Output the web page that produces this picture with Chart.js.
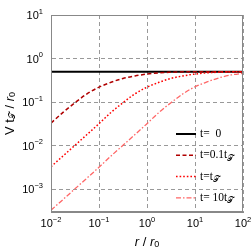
<!DOCTYPE html>
<html>
<head>
<meta charset="utf-8">
<script src="https://cdn.jsdelivr.net/npm/chart.js@4"></script>
<style>
  html, body { margin: 0; padding: 0; background: #fff; }
  canvas { display: block; }
</style>
</head>
<body>
<canvas id="chart" width="252" height="252"></canvas>
<script>
// r / r0 sample points (quarter decades)
const radius = [0.01, 0.0178, 0.0316, 0.0562, 0.1, 0.178, 0.316, 0.562, 1, 1.78, 3.16, 5.62, 10, 17.8, 31.6, 56.2, 100];
// V t_T / r0
const vT0   = [0.5, 0.5, 0.5, 0.5, 0.5, 0.5, 0.5, 0.5, 0.5, 0.5, 0.5, 0.5, 0.5, 0.5, 0.5, 0.5, 0.5];
const vT01  = [0.033, 0.058, 0.097, 0.155, 0.22, 0.285, 0.35, 0.40, 0.44, 0.47, 0.485, 0.495, 0.5, 0.5, 0.5, 0.5, 0.5];
const vT1   = [0.0033, 0.0058, 0.0102, 0.018, 0.032, 0.058, 0.097, 0.155, 0.22, 0.285, 0.35, 0.40, 0.44, 0.47, 0.485, 0.495, 0.5];
const vT10  = [0.00033, 0.00058, 0.00102, 0.0018, 0.0032, 0.0058, 0.0102, 0.018, 0.032, 0.058, 0.097, 0.155, 0.225, 0.29, 0.36, 0.42, 0.46];

const xExponents = [-2, -1, 0, 1, 2];
const yExponents = [-3, -2, -1, 0, 1];
// legend label: main text + subscript
const legendText = [['t=  0', ''], ['t=0.1t', '𝒯'], ['t=t', '𝒯'], ['t= 10t', '𝒯']];

const SANS = '"Liberation Sans", Arial, sans-serif';
const SERIF = '"Liberation Serif", "Times New Roman", serif';

const pts = ys => radius.map((r, i) => ({ x: r, y: ys[i] }));

// draw a row of text pieces, each with own font and vertical offset
function drawRuns(ctx, runs, x, y, align) {
  let w = 0;
  runs.forEach(r => { ctx.font = r.font; r.w = ctx.measureText(r.text).width; w += r.w; });
  let cx = align === 'center' ? x - w / 2 : align === 'right' ? x - w : x;
  runs.forEach(r => {
    ctx.font = r.font;
    ctx.fillText(r.text, cx, y + (r.dy || 0));
    cx += r.w;
  });
}

const pow10 = e => [
  { text: '10', font: '11px ' + SANS },
  { text: e < 0 ? '\u2212' + (-e) : String(e), font: '7.5px ' + SANS, dy: -4.5 }
];

const decorations = {
  id: 'decorations',
  afterDraw(chart) {
    const { ctx, chartArea: a, scales } = chart;
    ctx.save();
    // frame
    ctx.strokeStyle = '#888';
    ctx.lineWidth = 1;
    ctx.setLineDash([]);
    ctx.strokeRect(a.left + 0.5, a.top + 0.5, a.right - a.left - 1, a.bottom - a.top - 1);

    ctx.fillStyle = '#000';
    ctx.textBaseline = 'middle';
    xExponents.forEach(e => {
      const px = scales.x.getPixelForValue(Math.pow(10, e));
      drawRuns(ctx, pow10(e), px, a.bottom + 12, 'center');
    });
    yExponents.forEach(e => {
      const py = scales.y.getPixelForValue(Math.pow(10, e));
      drawRuns(ctx, pow10(e), a.left - 8, py + 1, 'right');
    });

    // axis titles
    drawRuns(ctx, [
      { text: 'r', font: 'italic 13px ' + SANS },
      { text: ' / ', font: '13px ' + SANS },
      { text: 'r', font: 'italic 13px ' + SANS },
      { text: '0', font: '9px ' + SANS, dy: 3 }
    ], (a.left + a.right) / 2, 242, 'center');

    ctx.save();
    ctx.translate(10, (a.top + a.bottom) / 2);
    ctx.rotate(-Math.PI / 2);
    drawRuns(ctx, [
      { text: 'V t', font: '13px ' + SANS },
      { text: '𝒯', font: '9px ' + SERIF, dy: 3 },
      { text: ' / ', font: '13px ' + SANS },
      { text: 'r', font: 'italic 13px ' + SANS },
      { text: '0', font: '9px ' + SANS, dy: 3 }
    ], 0, 0, 'center');
    ctx.restore();

    // legend
    const ds = chart.data.datasets;
    legendText.forEach((lab, i) => {
      const y = 134 + i * 21.3;
      const d = ds[i];
      ctx.strokeStyle = d.borderColor;
      ctx.lineWidth = d.borderWidth;
      ctx.setLineDash(d.borderDash || []);
      ctx.beginPath();
      ctx.moveTo(176, y);
      ctx.lineTo(196, y);
      ctx.stroke();
      ctx.setLineDash([]);
      const runs = [{ text: lab[0], font: '11.5px ' + SERIF }];
      if (lab[1]) runs.push({ text: lab[1], font: '9px ' + SERIF, dy: 3 });
      drawRuns(ctx, runs, 200, y, 'left');
    });
    ctx.restore();
  }
};

const decadeTicks = exps => scale => {
  scale.ticks = exps.map(e => ({ value: Math.pow(10, e) }));
};

new Chart(document.getElementById('chart'), {
  type: 'line',
  data: {
    datasets: [
      { label: 't=0', data: pts(vT0), borderColor: '#000000', borderWidth: 2, order: 4 },
      { label: 't=0.1', data: pts(vT01), borderColor: '#b00000', borderWidth: 1.5, borderDash: [4, 2.5], order: 3 },
      { label: 't=1', data: pts(vT1), borderColor: '#ff0000', borderWidth: 1.5, borderDash: [1.6, 2], order: 2 },
      { label: 't=10', data: pts(vT10), borderColor: '#ff6666', borderWidth: 1.3, borderDash: [5, 2, 1.5, 2], order: 1 }
    ]
  },
  options: {
    responsive: false,
    animation: false,
    devicePixelRatio: 1,
    layout: { padding: { left: 51, top: 15, right: 9, bottom: 40 } },
    elements: {
      point: { radius: 0 },
      line: { cubicInterpolationMode: 'monotone', fill: false }
    },
    plugins: { legend: { display: false }, tooltip: { enabled: false } },
    scales: {
      x: {
        type: 'logarithmic',
        min: 0.01,
        max: 100,
        afterBuildTicks: decadeTicks(xExponents),
        ticks: { display: false },
        grid: { color: '#999', lineWidth: 1, drawTicks: false },
        border: { color: '#888', dash: [4, 3] }
      },
      y: {
        type: 'logarithmic',
        min: 3e-4,
        max: 10,
        afterBuildTicks: decadeTicks(yExponents),
        ticks: { display: false },
        grid: { color: '#999', lineWidth: 1, drawTicks: false },
        border: { color: '#888', dash: [4, 3] }
      }
    }
  },
  plugins: [decorations]
});
</script>
</body>
</html>
